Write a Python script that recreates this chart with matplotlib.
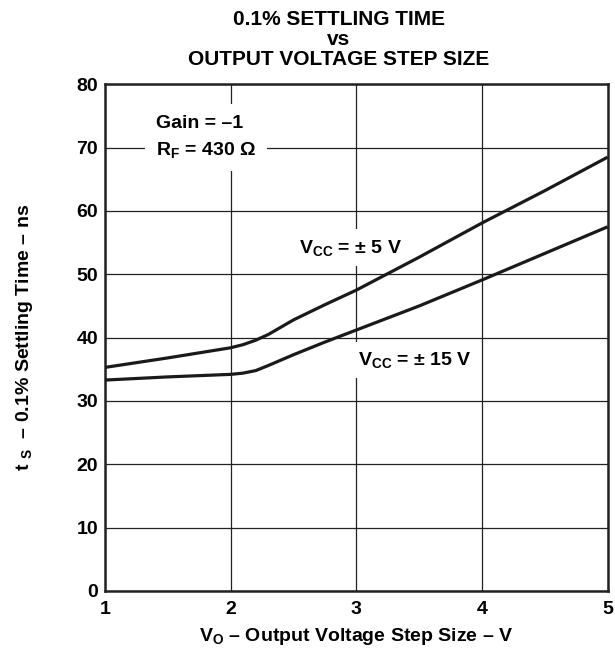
import matplotlib.pyplot as plt

plt.rcParams['font.family'] = ['Liberation Sans', 'DejaVu Sans']
plt.rcParams['font.weight'] = 'bold'
plt.rcParams['mathtext.fontset'] = 'custom'
plt.rcParams['mathtext.rm'] = 'Liberation Sans'
plt.rcParams['mathtext.bf'] = 'Liberation Sans:bold'
plt.rcParams['mathtext.it'] = 'Liberation Sans:bold'

# step size (V) and settling time (ns)
step_v = [1, 1.5, 2, 2.1, 2.2, 2.3, 2.5, 2.75, 3, 3.5, 4, 4.5, 5]
ts_vcc5 = [35.3, 36.8, 38.4, 38.9, 39.6, 40.5, 42.8, 45.2, 47.5, 52.7, 58.1, 63.2, 68.5]
ts_vcc15 = [33.3, 33.8, 34.2, 34.4, 34.8, 35.6, 37.3, 39.3, 41.2, 45.0, 49.1, 53.3, 57.5]

x_ticks = [1, 2, 3, 4, 5]
y_ticks = [0, 10, 20, 30, 40, 50, 60, 70, 80]

fig = plt.figure(figsize=(6.15, 6.52), dpi=100)
ax = fig.add_axes([0.1707, 0.0936, 0.8173, 0.7771])

ax.plot(step_v, ts_vcc5, color='#1a1a1a', lw=2.3, solid_capstyle='butt', zorder=3)
ax.plot(step_v, ts_vcc15, color='#1a1a1a', lw=2.3, solid_capstyle='butt', zorder=3)

ax.set_xlim(1, 5)
ax.set_ylim(0, 80)
ax.set_xticks(x_ticks)
ax.set_yticks(y_ticks)
ax.grid(True, color='#222222', lw=0.9, zorder=1)
ax.tick_params(length=0, labelsize=14)
ax.tick_params(axis='x', pad=7)
ax.tick_params(axis='y', pad=5)
for s in ax.spines.values():
    s.set_linewidth(1.8)
    s.set_color('#222222')

ax.set_xlabel(r'$\mathbf{V}_{\mathbf{O}}$ – Output Voltage Step Size – V',
              fontsize=14, fontweight='bold', labelpad=6)
ax.set_ylabel(r'$\mathbf{t}\ _{\mathbf{S}}$  – 0.1% Settling Time – ns',
              fontsize=14, fontweight='bold', labelpad=30)

fig.suptitle('0.1% SETTLING TIME\nvs\nOUTPUT VOLTAGE STEP SIZE', x=0.551, y=0.985,
             fontsize=15, fontweight='bold', linespacing=1.08)

box = dict(facecolor='white', edgecolor='none', pad=8)
ax.text(1.406, 73.06, 'Gain = –1', fontsize=14, va='baseline', ha='left',
        bbox=box, zorder=2)
ax.text(1.406, 68.85, r'$\mathbf{R}_{\mathbf{F}}$ = 430 $\Omega$', fontsize=14,
        va='baseline', ha='left', bbox=box, zorder=2)
box2 = dict(facecolor='white', edgecolor='none', pad=6)
ax.text(2.546, 53.4, r'$\mathbf{V}_{\mathbf{CC}}$ = $\pm$ 5 V', fontsize=14,
        va='baseline', ha='left', bbox=box2, zorder=2)
ax.text(3.015, 35.7, r'$\mathbf{V}_{\mathbf{CC}}$ = $\pm$ 15 V', fontsize=14,
        va='baseline', ha='left', bbox=box2, zorder=2)

fig.savefig('out.png', dpi=100, facecolor='white')
